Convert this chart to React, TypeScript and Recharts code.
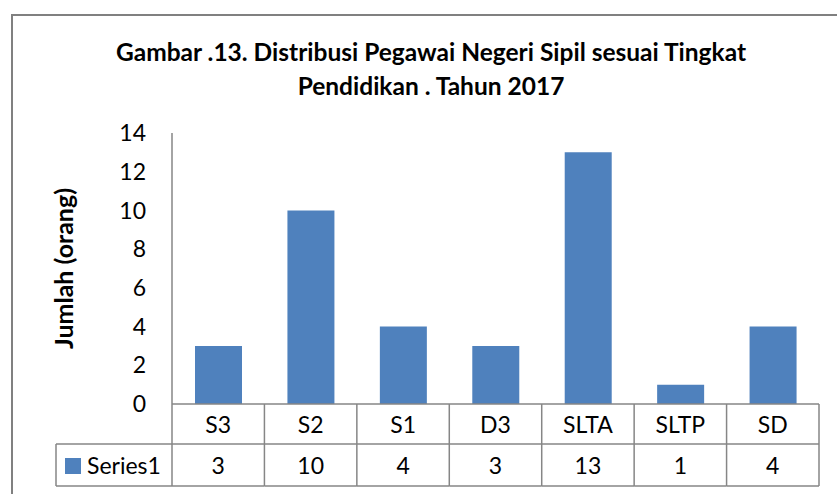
import { BarChart, Bar, XAxis, YAxis, Label } from 'recharts'

const categories = ['S3', 'S2', 'S1', 'D3', 'SLTA', 'SLTP', 'SD']
const series1 = [3, 10, 4, 3, 13, 1, 4]
const yTicks = [0, 2, 4, 6, 8, 10, 12, 14]
const seriesName = 'Series1'
const titleLines = [
  'Gambar .13. Distribusi Pegawai Negeri Sipil sesuai Tingkat',
  'Pendidikan . Tahun 2017',
]
const yLabel = 'Jumlah (orang)'

const data = categories.map((name, i) => ({ name, value: series1[i] }))

const W = 837
const H = 494
const margin = { top: 133, right: 18, bottom: 8, left: 0 }
const yAxisWidth = 172
const xAxisHeight = 82
const rowH = 40
const cellW = (W - margin.left - margin.right - yAxisWidth) / categories.length
const font = 'Lato, "Noto Sans", sans-serif'
const labelSize = 23
const gridColor = '#868686'
const barColor = '#4F81BD'

const TableTick = (props: any) => {
  const { x, y, payload } = props
  const i = payload.index
  const left = x - cellW / 2
  const right = x + cellW / 2
  return (
    <g>
      <line x1={right} y1={y} x2={right} y2={y + xAxisHeight} stroke={gridColor} strokeWidth={1.5} />
      {i === 0 && (
        <line x1={left} y1={y} x2={left} y2={y + xAxisHeight} stroke={gridColor} strokeWidth={1.5} />
      )}
      <line x1={left} y1={y + rowH} x2={right} y2={y + rowH} stroke={gridColor} strokeWidth={1.5} />
      <line x1={left} y1={y + xAxisHeight} x2={right} y2={y + xAxisHeight} stroke={gridColor} strokeWidth={1.5} />
      <text x={x} y={y + rowH / 2} textAnchor="middle" dominantBaseline="central" fontSize={labelSize} fontFamily={font} fill="#000">
        {payload.value}
      </text>
      <text x={x} y={y + (rowH + xAxisHeight) / 2} textAnchor="middle" dominantBaseline="central" fontSize={labelSize} fontFamily={font} fill="#000">
        {series1[i]}
      </text>
      {i === 0 && (
        <g>
          <line x1={56} y1={y + rowH} x2={left} y2={y + rowH} stroke={gridColor} strokeWidth={1.5} />
          <line x1={56} y1={y + xAxisHeight} x2={left} y2={y + xAxisHeight} stroke={gridColor} strokeWidth={1.5} />
          <line x1={56} y1={y + rowH} x2={56} y2={y + xAxisHeight} stroke={gridColor} strokeWidth={1.5} />
          <rect x={65} y={y + 54} width={16} height={16} fill={barColor} />
          <text x={87} y={y + (rowH + xAxisHeight) / 2} dominantBaseline="central" fontSize={labelSize} fontFamily={font} fill="#000">
            {seriesName}
          </text>
        </g>
      )}
    </g>
  )
}

export default function App() {
  return (
    <div
      style={{
        position: 'absolute',
        left: 0,
        top: 0,
        width: W,
        height: H,
        overflow: 'hidden',
        background: '#fff',
      }}
    >
      <div
        style={{
          position: 'absolute',
          left: 11,
          top: 14,
          width: 900,
          height: 600,
          border: '2px solid #808080',
        }}
      />
      <div
        style={{
          position: 'absolute',
          left: 0,
          top: 35,
          width: 862,
          textAlign: 'center',
          fontFamily: font,
          fontWeight: 'bold',
          fontSize: 24.5,
          lineHeight: '34px',
          color: '#000',
        }}
      >
        {titleLines.map((t) => (
          <div key={t}>{t}</div>
        ))}
      </div>
      <div style={{ position: 'absolute', left: 0, top: 0 }}>
        <BarChart width={W} height={H} data={data} margin={margin}>
          <YAxis
            width={yAxisWidth}
            domain={[0, 14]}
            ticks={yTicks}
            interval={0}
            tickLine={false}
            tickSize={0}
            tickMargin={26}
            axisLine={{ stroke: gridColor, strokeWidth: 1.5 }}
            tick={{ fill: '#000', fontSize: labelSize, fontFamily: font }}
          >
            <Label
              content={({ viewBox }: any) => {
                const cx = viewBox.x + 63
                const cy = viewBox.y + viewBox.height / 2
                return (
                  <text
                    x={cx}
                    y={cy}
                    transform={`rotate(-90, ${cx}, ${cy})`}
                    textAnchor="middle"
                    dominantBaseline="central"
                    fontSize={25}
                    fontWeight="bold"
                    fontFamily={font}
                    fill="#000"
                  >
                    {yLabel}
                  </text>
                )
              }}
            />
          </YAxis>
          <XAxis
            dataKey="name"
            height={xAxisHeight}
            interval={0}
            tickLine={false}
            tickSize={0}
            tickMargin={0}
            axisLine={{ stroke: gridColor, strokeWidth: 1.5 }}
            tick={<TableTick />}
          />
          <Bar dataKey="value" fill={barColor} barSize={47} isAnimationActive={false} />
        </BarChart>
      </div>
    </div>
  )
}
